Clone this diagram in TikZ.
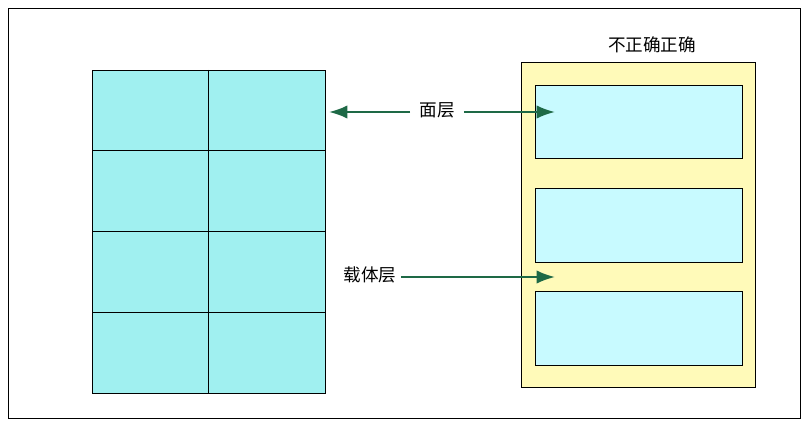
\documentclass[tikz,border=0pt]{standalone}
\usepackage{fontspec}
\newfontfamily\cjk{Noto Sans CJK SC}
\usetikzlibrary{arrows.meta}
\definecolor{tilecyan}{RGB}{160,240,240}
\definecolor{boxcyan}{RGB}{200,250,255}
\definecolor{padyellow}{RGB}{255,250,185}
\definecolor{arrowgreen}{RGB}{30,105,70}
\tikzset{
  lbl/.style={font=\cjk\fontsize{15}{15}\selectfont, inner sep=1pt},
  pointer/.style={draw=arrowgreen, line width=1.8pt, -{Latex[length=5.5mm, width=4mm]}}
}
\begin{document}
\begin{tikzpicture}[x=0.03cm, y=-0.03cm]
  \useasboundingbox (0, 0) rectangle (807, 423);
  \draw [line width=0.8pt] (8, 8) rectangle (800, 418);  % rahmen
  \draw [fill=tilecyan, line width=0.6pt] (92, 70) rectangle (325, 393);  % fliesen
  \draw [line width=0.6pt] (208, 70) -- (208, 393);
  \foreach \y in {150, 231, 312}
    \draw [line width=0.6pt] (92, \y) -- (325, \y);
  \draw [fill=padyellow, line width=0.6pt] (521, 62) rectangle (755, 387);  % träger
  \foreach \t/\b in {85/158, 188/262, 291/365}
    \draw [fill=boxcyan, line width=0.6pt] (535, \t) rectangle (742, \b);
  \node [lbl] (titel) at (652, 45) {不正确正确};
  \node [lbl] (face) at (437, 110) {面层};
  \node [lbl] (carrier) at (370, 275) {载体层};
  \coordinate (faceL) at (329, 112);
  \coordinate (faceR) at (555, 112);
  \coordinate (carrierR) at (555, 277);
  \draw [pointer] (face.west |- faceL) ++(-8, 0) -- (faceL);
  \draw [pointer] (face.east |- faceR) ++(8, 0) -- (faceR);
  \draw [pointer] (carrier.east |- carrierR) ++(3, 0) -- (carrierR);
\end{tikzpicture}
\end{document}
